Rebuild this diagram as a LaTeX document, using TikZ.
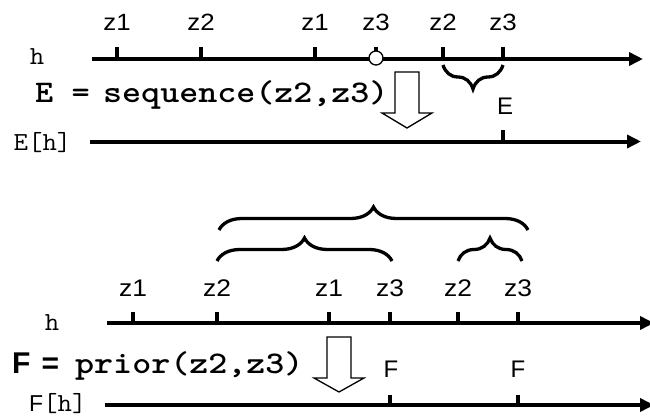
\documentclass[tikz,border=0pt]{standalone}
\usepackage{fontspec}
\usepackage{graphicx}
\usetikzlibrary{arrows.meta,decorations.pathreplacing}
\newfontfamily\labsans{Liberation Sans}
\newfontfamily\labmono{Latin Modern Mono}
\newfontfamily\labmonobold{Latin Modern Mono Light}
\newcommand\stretchtext[2]{\scalebox{#1}[1]{#2}}

\tikzset{
  axisline/.style={line width=4pt,-{Triangle[length=14pt,width=13pt]}},
  tickmark/.style={line width=3.2pt},
  bracemark/.style={line width=3.3pt,decorate,decoration={brace,amplitude=#1}},
  hollowarrow/.style={draw=black,fill=white,line width=1.3pt,line join=miter},
  evt/.style={font=\labsans\fontsize{23.5}{26}\selectfont,inner sep=0pt,anchor=base},
  evtb/.style={font=\labsans\fontsize{24}{26}\selectfont,inner sep=0pt,anchor=base},
  seqname/.style={font=\labmono\fontsize{26}{28}\selectfont,inner sep=0pt,anchor=base},
  formula/.style={font=\labmonobold\bfseries\fontsize{31.5}{34}\selectfont,inner sep=0pt,anchor=base west},
}

\begin{document}
\begin{tikzpicture}[x=1pt,y=-1pt]
\useasboundingbox (0,0) rectangle (650,417);

% ---------- upper example: h and E[h] ----------
\coordinate (h1s) at (92,59);   \coordinate (h1e) at (643,59);
\coordinate (eh s) at (90,141.5); \coordinate (eh e) at (641,141.5);
\node[seqname] (hlab1) at (37,65) {\stretchtext{1.08}{h}};
\node[seqname] (ehlab) at (42.5,150) {\stretchtext{1.08}{E[h]}};

\foreach \n/\x/\t in {a/117/z1,b/201/z2,c/315/z1,d/376/z3,e/443/z2,f/503/z3}{
  \coordinate (t1\n) at (\x,47);
  \coordinate (b1\n) at (\x,59);
  \draw[tickmark] (t1\n) -- (b1\n);
  \node[evt] (l1\n) at (\x,31) {\stretchtext{1.1}{\t}};
}
\draw[axisline] (h1s) -- (h1e);
\node[circle,draw=black,fill=white,line width=1.3pt,minimum size=14pt,inner sep=0pt] (gap) at (376,58) {};

\draw[bracemark=24pt] (503,65) -- (443,65);
\node[evt] (elab) at (505,114) {\fontsize{24}{26}\selectfont E};
\coordinate (etop) at (503,130);
\coordinate (ebot) at (503,141.5);
\draw[tickmark] (etop) -- (ebot);
\draw[axisline] (eh s) -- (eh e);

\node[formula] (eqE) at (35,102.5) {\stretchtext{1.1}{E =}};
\node[formula] (eqseq) at (103,102.5) {\stretchtext{1.15}{sequence(z2,z3)}};

\draw[hollowarrow] (395,72) -- (419,72) -- (419,113) -- (432,113) -- (407,128)
  -- (382,113) -- (395,113) -- cycle;

% ---------- lower example: h and F[h] ----------
\coordinate (h2s) at (107,323); \coordinate (h2e) at (654,323);
\coordinate (fh s) at (105,405); \coordinate (fh e) at (654,405);
\node[seqname] (hlab2) at (52,330) {\stretchtext{1.08}{h}};
\node[inner sep=0pt,anchor=base west] (fhlab) at (29,411)
  {\labsans\fontsize{23}{26}\selectfont F\labmono\fontsize{26}{28}\selectfont\stretchtext{1.08}{[h]}};

\foreach \n/\x/\t in {a/133/z1,b/217/z2,c/329/z1,d/390/z3,e/458/z2,f/518/z3}{
  \coordinate (t2\n) at (\x,312);
  \coordinate (b2\n) at (\x,323);
  \draw[tickmark] (t2\n) -- (b2\n);
  \node[evtb] (l2\n) at (\x,296) {\stretchtext{1.1}{\t}};
}
\draw[axisline] (h2s) -- (h2e);

\draw[bracemark=23pt] (219,230) -- (528,230);
\draw[bracemark=23pt] (217,261) -- (392,261);
\draw[bracemark=23pt] (458,261) -- (522,261);

\node[evtb] (flab1) at (391,377) {F};
\node[evtb] (flab2) at (518,377) {F};
\coordinate (f1top) at (390,395); \coordinate (f1bot) at (390,405);
\coordinate (f2top) at (518,395); \coordinate (f2bot) at (518,405);
\draw[tickmark] (f1top) -- (f1bot);
\draw[tickmark] (f2top) -- (f2bot);
\draw[axisline] (fh s) -- (fh e);

\node[inner sep=0pt,anchor=base west] (eqF) at (12,373)
  {\labsans\bfseries\fontsize{30}{32}\selectfont F\hspace{11pt}=};
\node[formula] (eqprior) at (75,373) {\stretchtext{1.15}{prior(z2,z3)}};

\draw[hollowarrow] (327,337) -- (351,337) -- (351,378) -- (364,378) -- (339,392)
  -- (314,378) -- (327,378) -- cycle;
\end{tikzpicture}
\end{document}
